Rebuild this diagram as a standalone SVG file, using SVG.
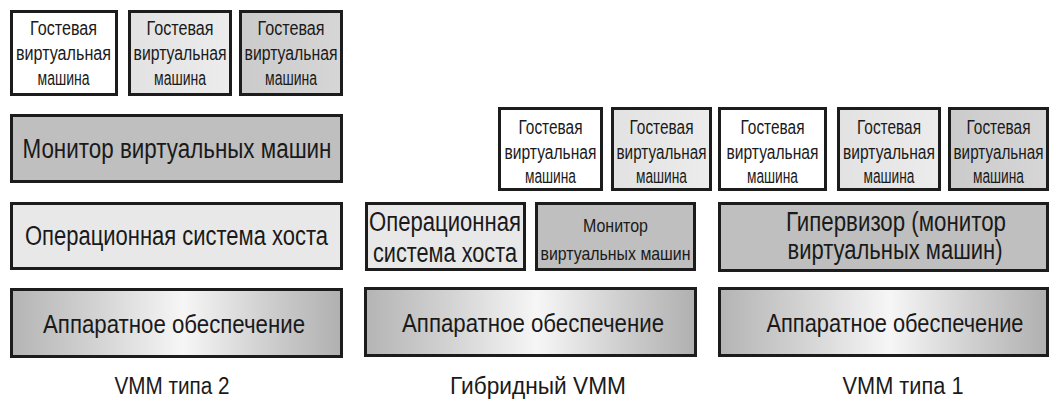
<svg xmlns="http://www.w3.org/2000/svg" width="1050" height="405" viewBox="0 0 1050 405">
<defs>
<linearGradient id="hw" x1="0" y1="0" x2="1" y2="0">
<stop offset="0" stop-color="#b4b4b4"/>
<stop offset="0.25" stop-color="#d2d2d2"/>
<stop offset="0.52" stop-color="#f6f6f6"/>
<stop offset="0.78" stop-color="#cecece"/>
<stop offset="1" stop-color="#b0b0b0"/>
</linearGradient>
<linearGradient id="g2" x1="0" y1="0" x2="1" y2="0">
<stop offset="0" stop-color="#e2e2e2"/>
<stop offset="1" stop-color="#ececec"/>
</linearGradient>
<linearGradient id="g3" x1="0" y1="0" x2="1" y2="0">
<stop offset="0" stop-color="#cbcbcb"/>
<stop offset="1" stop-color="#d6d6d6"/>
</linearGradient>
</defs>
<style>
rect{stroke:#1c1c1c;stroke-width:3}
.w{fill:#ffffff}
.l{fill:url(#g2)}
.d{fill:url(#g3)}
.m{fill:#bfbfbf}
.os{fill:#e8e8e8}
.hw{fill:url(#hw)}
text{font-family:"Liberation Sans",Arial,sans-serif;fill:#1a1a1a;text-anchor:middle}
.gt{font-size:20px}
.big{font-size:27px}
.hwt{font-size:26px}
.sm{font-size:19px}
.lab{font-size:23px}
</style>
<rect width="1050" height="405" fill="#ffffff" style="stroke:none"/>
<g id="connectors"/>

<!-- VMM type 2 -->
<g id="t2-guest1"><rect class="w" x="11.5" y="11.5" width="105" height="83"/>
<text class="gt" x="63.5" y="35" textLength="67" lengthAdjust="spacingAndGlyphs">Гостевая</text>
<text class="gt" x="63.5" y="60" textLength="95" lengthAdjust="spacingAndGlyphs">виртуальная</text>
<text class="gt" x="63.5" y="85" textLength="52" lengthAdjust="spacingAndGlyphs">машина</text></g>
<g id="t2-guest2"><rect class="l" x="129.5" y="11.5" width="101" height="83"/>
<text class="gt" x="180" y="35" textLength="67" lengthAdjust="spacingAndGlyphs">Гостевая</text>
<text class="gt" x="180" y="60" textLength="93" lengthAdjust="spacingAndGlyphs">виртуальная</text>
<text class="gt" x="180" y="85" textLength="52" lengthAdjust="spacingAndGlyphs">машина</text></g>
<g id="t2-guest3"><rect class="d" x="240.5" y="11.5" width="101" height="83"/>
<text class="gt" x="291" y="35" textLength="67" lengthAdjust="spacingAndGlyphs">Гостевая</text>
<text class="gt" x="291" y="60" textLength="93" lengthAdjust="spacingAndGlyphs">виртуальная</text>
<text class="gt" x="291" y="85" textLength="52" lengthAdjust="spacingAndGlyphs">машина</text></g>
<g id="t2-vmm"><rect class="m" x="11.5" y="115.5" width="330" height="66"/>
<text class="big" x="177" y="158" textLength="309" lengthAdjust="spacingAndGlyphs">Монитор виртуальных машин</text></g>
<g id="t2-os"><rect class="os" x="11.5" y="203.5" width="330" height="65"/>
<text class="big" x="176.5" y="245" textLength="303" lengthAdjust="spacingAndGlyphs">Операционная система хоста</text></g>
<g id="t2-hw"><rect class="hw" x="11.5" y="289.5" width="330" height="67"/>
<text class="hwt" x="174" y="333" textLength="262" lengthAdjust="spacingAndGlyphs">Аппаратное обеспечение</text></g>
<g id="t2-label"><text class="lab" x="172" y="394" textLength="115" lengthAdjust="spacingAndGlyphs">VMM типа 2</text></g>

<!-- Hybrid -->
<g id="h-guest1"><rect class="w" x="499.5" y="108.5" width="102" height="81"/>
<text class="gt" x="550.5" y="134" textLength="64" lengthAdjust="spacingAndGlyphs">Гостевая</text>
<text class="gt" x="550.5" y="159" textLength="92" lengthAdjust="spacingAndGlyphs">виртуальная</text>
<text class="gt" x="550.5" y="183" textLength="51" lengthAdjust="spacingAndGlyphs">машина</text></g>
<g id="h-guest2"><rect class="l" x="612.5" y="108.5" width="98" height="81"/>
<text class="gt" x="661.5" y="134" textLength="64" lengthAdjust="spacingAndGlyphs">Гостевая</text>
<text class="gt" x="661.5" y="159" textLength="90" lengthAdjust="spacingAndGlyphs">виртуальная</text>
<text class="gt" x="661.5" y="183" textLength="51" lengthAdjust="spacingAndGlyphs">машина</text></g>
<g id="h-os"><rect class="os" x="366.5" y="203.5" width="158" height="66"/>
<text class="big" x="445" y="231" textLength="152" lengthAdjust="spacingAndGlyphs">Операционная</text>
<text class="big" x="445" y="262" textLength="144" lengthAdjust="spacingAndGlyphs">система хоста</text></g>
<g id="h-vmm"><rect class="m" x="536.5" y="203.5" width="158" height="66"/>
<text class="sm" x="615.5" y="232" textLength="65" lengthAdjust="spacingAndGlyphs">Монитор</text>
<text class="sm" x="615.5" y="260" textLength="150" lengthAdjust="spacingAndGlyphs">виртуальных машин</text></g>
<g id="h-hw"><rect class="hw" x="365.5" y="288.5" width="330" height="67"/>
<text class="hwt" x="533" y="332" textLength="262" lengthAdjust="spacingAndGlyphs">Аппаратное обеспечение</text></g>
<g id="h-label"><text class="lab" x="538" y="394" textLength="176" lengthAdjust="spacingAndGlyphs">Гибридный VMM</text></g>

<!-- VMM type 1 -->
<g id="t1-guest1"><rect class="w" x="719.5" y="108.5" width="106" height="81"/>
<text class="gt" x="772.5" y="134" textLength="64" lengthAdjust="spacingAndGlyphs">Гостевая</text>
<text class="gt" x="772.5" y="159" textLength="92" lengthAdjust="spacingAndGlyphs">виртуальная</text>
<text class="gt" x="772.5" y="183" textLength="51" lengthAdjust="spacingAndGlyphs">машина</text></g>
<g id="t1-guest2"><rect class="l" x="838.5" y="108.5" width="101" height="81"/>
<text class="gt" x="889" y="134" textLength="64" lengthAdjust="spacingAndGlyphs">Гостевая</text>
<text class="gt" x="889" y="159" textLength="92" lengthAdjust="spacingAndGlyphs">виртуальная</text>
<text class="gt" x="889" y="183" textLength="51" lengthAdjust="spacingAndGlyphs">машина</text></g>
<g id="t1-guest3"><rect class="d" x="949.5" y="108.5" width="98" height="81"/>
<text class="gt" x="998.5" y="134" textLength="64" lengthAdjust="spacingAndGlyphs">Гостевая</text>
<text class="gt" x="998.5" y="159" textLength="90" lengthAdjust="spacingAndGlyphs">виртуальная</text>
<text class="gt" x="998.5" y="183" textLength="51" lengthAdjust="spacingAndGlyphs">машина</text></g>
<g id="t1-hyp"><rect class="m" x="719.5" y="203.5" width="328" height="67"/>
<text class="big" x="896" y="231" textLength="220" lengthAdjust="spacingAndGlyphs">Гипервизор (монитор</text>
<text class="big" x="895" y="259" textLength="215" lengthAdjust="spacingAndGlyphs">виртуальных машин)</text></g>
<g id="t1-hw"><rect class="hw" x="719.5" y="288.5" width="328" height="67"/>
<text class="hwt" x="895" y="332" textLength="257" lengthAdjust="spacingAndGlyphs">Аппаратное обеспечение</text></g>
<g id="t1-label"><text class="lab" x="903" y="394" textLength="121" lengthAdjust="spacingAndGlyphs">VMM типа 1</text></g>
</svg>
